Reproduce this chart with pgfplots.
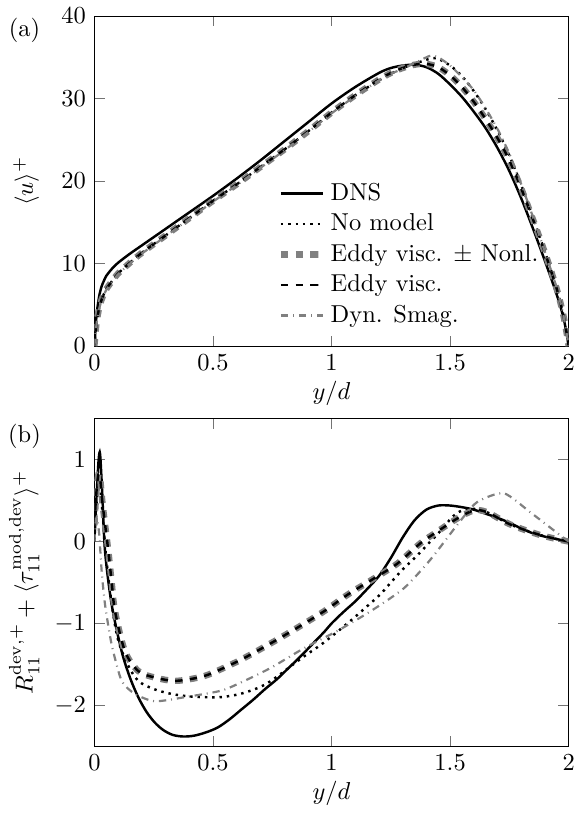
\documentclass[border=0pt]{standalone}
\usepackage{pgfplots}
\pgfplotsset{compat=1.18}
\begin{document}
\begin{tikzpicture}
\pgfplotsset{
  every axis/.append style={scale only axis, width=194pt, xmin=0, xmax=2,
    xtick={0,0.5,1,1.5,2}, xlabel={$y/d$}, tick style={black!55},
    xticklabels={$0$,$0.5$,$1$,$1.5$,$2$}, xlabel style={yshift=2.5pt}},
  dns/.style={black, line width=1pt, smooth, tension=0.5},
  nomod/.style={black, dotted, line width=1pt, smooth, tension=0.5},
  nonl/.style={black!50, dashed, line width=2.6pt, smooth, tension=0.5},
  eddy/.style={black, dashed, line width=1pt, smooth, tension=0.5},
  dyn/.style={black!50, dashdotted, line width=0.9pt, smooth, tension=0.4},
}
\begin{axis}[name=top, anchor=south west, at={(0,0)}, height=135pt,
  ymin=0, ymax=40, ytick={0,10,20,30,40},
  ylabel={$\langle u\rangle^+$},
  ylabel style={at={(rel axis cs:-0.144,0.5)}, anchor=center},
  legend style={at={(0.37,0.525)}, anchor=north west, draw=none, fill=none},
  legend cell align=left]
\addplot[dns] coordinates {(0,0)(0.005,2.2)(0.01,4.0)(0.02,6.0)(0.03,7.2)(0.04,7.9)(0.05,8.5)(0.075,9.4)(0.1,10.1)(0.15,11.2)(0.2,12.2)(0.3,14.2)(0.4,16.2)(0.5,18.2)(0.6,20.3)(0.7,22.5)(0.8,24.8)(0.9,27.1)(1.0,29.4)(1.1,31.4)(1.2,33.1)(1.25,33.7)(1.3,34.0)(1.35,34.1)(1.4,33.8)(1.45,33.0)(1.5,31.7)(1.55,30.2)(1.6,28.4)(1.65,26.4)(1.7,24.0)(1.75,21.2)(1.8,17.9)(1.85,14.2)(1.9,10.3)(1.95,6.2)(1.98,3.2)(2.0,0)};
\addlegendentry{DNS}
\addplot[nomod] coordinates {(0,0)(0.005,1.6)(0.01,3.0)(0.02,4.6)(0.03,5.6)(0.04,6.3)(0.05,6.9)(0.075,7.9)(0.1,8.8)(0.15,10.1)(0.2,11.3)(0.3,13.4)(0.4,15.5)(0.5,17.6)(0.6,19.6)(0.7,21.7)(0.8,23.8)(0.9,26.0)(1.0,28.3)(1.1,30.4)(1.2,32.2)(1.25,33.0)(1.3,33.7)(1.35,34.2)(1.4,34.7)(1.44,34.9)(1.5,34.0)(1.55,32.7)(1.6,30.9)(1.65,28.7)(1.7,26.1)(1.75,23.1)(1.8,19.5)(1.85,15.5)(1.9,11.4)(1.95,7.0)(1.98,3.4)(2.0,0)};
\addlegendentry{No model}
\addplot[nonl] coordinates {(0,0)(0.005,1.6)(0.01,3.0)(0.02,4.6)(0.03,5.6)(0.04,6.3)(0.05,6.9)(0.075,7.9)(0.1,8.8)(0.15,10.1)(0.2,11.3)(0.3,13.4)(0.4,15.5)(0.5,17.6)(0.6,19.6)(0.7,21.7)(0.8,23.8)(0.9,26.0)(1.0,28.3)(1.1,30.4)(1.2,32.3)(1.25,33.1)(1.3,33.7)(1.35,34.1)(1.4,34.2)(1.45,33.8)(1.5,32.8)(1.55,31.4)(1.6,29.6)(1.65,27.5)(1.7,25.2)(1.75,22.5)(1.8,19.1)(1.85,15.3)(1.9,11.3)(1.95,6.9)(1.98,3.4)(2.0,0)};
\addlegendentry{Eddy visc. $\pm$ Nonl.}
\addplot[eddy] coordinates {(0,0)(0.005,1.6)(0.01,3.0)(0.02,4.6)(0.03,5.6)(0.04,6.3)(0.05,6.9)(0.075,7.9)(0.1,8.8)(0.15,10.1)(0.2,11.3)(0.3,13.4)(0.4,15.5)(0.5,17.6)(0.6,19.6)(0.7,21.7)(0.8,23.8)(0.9,26.0)(1.0,28.3)(1.1,30.4)(1.2,32.3)(1.25,33.1)(1.3,33.7)(1.35,34.1)(1.4,34.2)(1.45,33.8)(1.5,32.8)(1.55,31.4)(1.6,29.6)(1.65,27.5)(1.7,25.2)(1.75,22.5)(1.8,19.1)(1.85,15.3)(1.9,11.3)(1.95,6.9)(1.98,3.4)(2.0,0)};
\addlegendentry{Eddy visc.}
\addplot[dyn] coordinates {(0,0)(0.005,1.5)(0.01,2.9)(0.02,4.5)(0.03,5.5)(0.04,6.2)(0.05,6.8)(0.075,7.8)(0.1,8.7)(0.15,10.0)(0.2,11.2)(0.3,13.3)(0.4,15.4)(0.5,17.5)(0.6,19.5)(0.7,21.6)(0.8,23.7)(0.9,25.9)(1.0,28.2)(1.1,30.3)(1.2,32.2)(1.25,33.0)(1.3,33.6)(1.35,34.3)(1.4,35.0)(1.42,35.2)(1.45,35.0)(1.5,34.0)(1.55,32.6)(1.6,31.0)(1.65,28.8)(1.7,26.3)(1.75,23.3)(1.8,19.6)(1.85,15.6)(1.9,11.4)(1.95,7.0)(1.98,3.4)(2.0,0)};
\addlegendentry{Dyn. Smag.}
\end{axis}
\begin{axis}[name=bot, anchor=south west, at={(0,-163.7pt)}, height=134pt,
  ymin=-2.5, ymax=1.5, ytick={-2,-1,0,1},
  ylabel={$R_{11}^{\mathrm{dev},+}+\langle\tau_{11}^{\mathrm{mod,dev}}\rangle^+$},
  ylabel style={at={(rel axis cs:-0.148,0.5)}, anchor=center}]
\addplot[dns] coordinates {(0,0)(0.01,0.6)(0.018,1.0)(0.024,1.07)(0.033,0.6)(0.045,-0.12)(0.073,-0.77)(0.115,-1.34)(0.15,-1.66)(0.185,-1.90)(0.22,-2.08)(0.255,-2.21)(0.29,-2.30)(0.33,-2.36)(0.374,-2.38)(0.42,-2.37)(0.47,-2.33)(0.52,-2.27)(0.57,-2.17)(0.62,-2.05)(0.67,-1.93)(0.72,-1.80)(0.77,-1.68)(0.82,-1.54)(0.87,-1.40)(0.92,-1.25)(0.97,-1.10)(1.0,-1.0)(1.05,-0.86)(1.1,-0.73)(1.15,-0.58)(1.2,-0.42)(1.25,-0.20)(1.3,0.05)(1.35,0.26)(1.4,0.39)(1.45,0.44)(1.5,0.44)(1.55,0.42)(1.6,0.39)(1.65,0.34)(1.7,0.29)(1.75,0.23)(1.8,0.16)(1.85,0.10)(1.9,0.06)(1.95,0.03)(2.0,0)};
\addplot[nomod] coordinates {(0,0.1)(0.01,0.5)(0.02,0.75)(0.03,0.5)(0.05,-0.2)(0.075,-0.8)(0.1,-1.2)(0.14,-1.5)(0.185,-1.70)(0.25,-1.80)(0.325,-1.86)(0.4,-1.89)(0.465,-1.90)(0.53,-1.90)(0.6,-1.87)(0.66,-1.82)(0.717,-1.75)(0.77,-1.65)(0.815,-1.55)(0.885,-1.40)(0.955,-1.26)(1.025,-1.10)(1.095,-0.93)(1.15,-0.79)(1.207,-0.64)(1.25,-0.50)(1.3,-0.34)(1.361,-0.17)(1.41,-0.02)(1.45,0.10)(1.5,0.27)(1.53,0.35)(1.57,0.40)(1.6,0.40)(1.655,0.36)(1.753,0.21)(1.88,0.08)(2.0,0)};
\addplot[nonl] coordinates {(0,0.2)(0.005,0.45)(0.01,0.65)(0.017,0.82)(0.025,0.75)(0.035,0.45)(0.059,-0.12)(0.073,-0.5)(0.087,-0.85)(0.129,-1.34)(0.185,-1.58)(0.255,-1.66)(0.346,-1.70)(0.465,-1.64)(0.577,-1.50)(0.633,-1.42)(0.745,-1.24)(0.857,-1.05)(0.969,-0.85)(1.067,-0.65)(1.179,-0.45)(1.277,-0.27)(1.375,-0.02)(1.445,0.12)(1.529,0.28)(1.6,0.38)(1.655,0.36)(1.753,0.21)(1.88,0.08)(2.0,0)};
\addplot[eddy] coordinates {(0,0.2)(0.005,0.45)(0.01,0.65)(0.017,0.82)(0.025,0.75)(0.035,0.45)(0.059,-0.12)(0.073,-0.5)(0.087,-0.85)(0.129,-1.34)(0.185,-1.58)(0.255,-1.66)(0.346,-1.70)(0.465,-1.64)(0.577,-1.50)(0.633,-1.42)(0.745,-1.24)(0.857,-1.05)(0.969,-0.85)(1.067,-0.65)(1.179,-0.45)(1.277,-0.27)(1.375,-0.02)(1.445,0.12)(1.529,0.28)(1.6,0.38)(1.655,0.36)(1.753,0.21)(1.88,0.08)(2.0,0)};
\addplot[dyn] coordinates {(0,0)(0.005,0.2)(0.01,0.3)(0.02,0.1)(0.031,-0.37)(0.045,-0.77)(0.073,-1.26)(0.115,-1.70)(0.171,-1.86)(0.255,-1.95)(0.381,-1.90)(0.535,-1.82)(0.633,-1.70)(0.745,-1.54)(0.885,-1.30)(1.025,-1.09)(1.165,-0.85)(1.305,-0.57)(1.417,-0.22)(1.529,0.20)(1.613,0.48)(1.726,0.59)(1.837,0.36)(1.936,0.14)(2.0,0)};
\end{axis}
\node at ([xshift=-28.6pt,yshift=-5.7pt]top.north west) {(a)};
\node at ([xshift=-28.6pt,yshift=-7.4pt]bot.north west) {(b)};
\end{tikzpicture}
\end{document}
